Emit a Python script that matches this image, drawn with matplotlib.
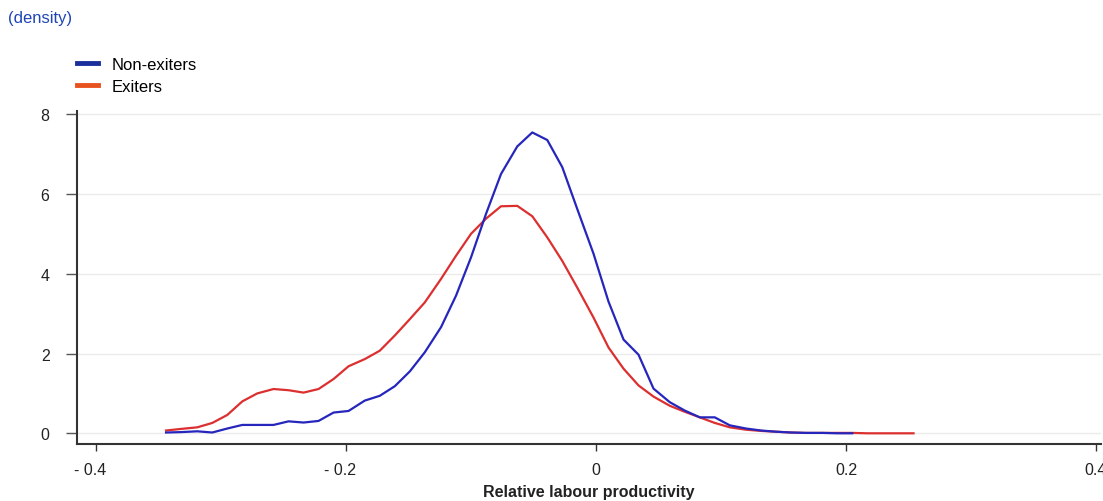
import matplotlib
matplotlib.use("Agg")
import matplotlib.pyplot as plt
import matplotlib.transforms as mtransforms
from matplotlib.lines import Line2D

plt.rcParams['font.family'] = ['Liberation Sans', 'DejaVu Sans']

# kernel density grid (relative labour productivity)
x_grid = [-0.344, -0.332, -0.319, -0.307, -0.295, -0.283, -0.271, -0.258, -0.246, -0.234,
          -0.222, -0.210, -0.198, -0.185, -0.173, -0.161, -0.149, -0.137, -0.124, -0.112,
          -0.100, -0.088, -0.076, -0.063, -0.051, -0.039, -0.027, -0.015, -0.002, 0.010,
          0.022, 0.034, 0.046, 0.059, 0.071, 0.083, 0.095, 0.107, 0.120, 0.132,
          0.144, 0.156, 0.168, 0.181, 0.193, 0.205, 0.217, 0.229, 0.242, 0.254]

non_exiters = [0.02, 0.03, 0.05, 0.02, 0.12, 0.21, 0.21, 0.21, 0.30, 0.27,
               0.31, 0.52, 0.56, 0.82, 0.94, 1.18, 1.55, 2.03, 2.66, 3.45,
               4.41, 5.50, 6.50, 7.19, 7.54, 7.35, 6.67, 5.62, 4.50, 3.30,
               2.35, 1.97, 1.12, 0.78, 0.57, 0.40, 0.40, 0.20, 0.12, 0.07,
               0.04, 0.02, 0.01, 0.01, 0.0, 0.0]

exiters = [0.07, 0.11, 0.15, 0.26, 0.46, 0.80, 1.00, 1.11, 1.08, 1.02,
           1.11, 1.36, 1.68, 1.86, 2.07, 2.45, 2.86, 3.28, 3.87, 4.45,
           5.00, 5.38, 5.69, 5.70, 5.44, 4.91, 4.32, 3.65, 2.90, 2.15,
           1.62, 1.20, 0.92, 0.69, 0.54, 0.40, 0.26, 0.15, 0.09, 0.06,
           0.04, 0.02, 0.01, 0.01, 0.01, 0.01, 0.0, 0.0, 0.0, 0.0]

x_ticks = [-0.4, -0.2, 0, 0.2, 0.4]
x_tick_labels = ['- 0.4', '- 0.2', '0', '0.2', '0.4']
y_ticks = [0, 2, 4, 6, 8]

fig = plt.figure(figsize=(11.03, 5.02), dpi=100)
ax = fig.add_axes([77.3 / 1103, 1 - 445 / 502, (1101 - 77.3) / 1103, (445 - 111.7) / 502])

ax.plot(x_grid[:len(non_exiters)], non_exiters, color='#2626bd', lw=1.6, zorder=3)
ax.plot(x_grid, exiters, color='#dc2f2f', lw=1.6, zorder=2)

ax.set_xlim(-0.415, 0.404)
ax.set_ylim(-0.268, 8.085)
ax.set_yticks(y_ticks)
ax.set_xticks(x_ticks)
ax.set_xticklabels(x_tick_labels)
ax.grid(axis='y', color='#ebebeb', lw=1.0)
ax.set_axisbelow(True)

for s in ['top', 'right']:
    ax.spines[s].set_visible(False)
for s in ['left', 'bottom']:
    ax.spines[s].set_color('#333333')
    ax.spines[s].set_linewidth(1.5)

ax.tick_params(axis='y', length=8, width=1, color='#555555', pad=12, labelsize=11.5, labelcolor='#222222')
ax.tick_params(axis='x', length=5, width=1, color='#333333', pad=8, labelsize=11.5, labelcolor='#222222')

# nudge the negative labels so the number sits under the tick
for lab in ax.get_xticklabels():
    if lab.get_text().startswith('-'):
        lab.set_transform(lab.get_transform() + mtransforms.ScaledTranslation(-6 / 100, 0, fig.dpi_scale_trans))

ax.set_xlabel('Relative labour productivity', fontsize=11.5, fontweight='bold', color='#222222', labelpad=5)

fig.text(8 / 1103, 1 - 18 / 502, '(density)', color='#1f45b5', fontsize=12, va='center', ha='left')

handles = [Line2D([], [], color='#1a2f9c', lw=3.5), Line2D([], [], color='#e8521f', lw=3.5)]
fig.legend(handles, ['Non-exiters', 'Exiters'], loc='upper left',
           bbox_to_anchor=(77 / 1103, 1 - 58 / 502), frameon=False, fontsize=12,
           handlelength=1.25, handletextpad=0.8, labelspacing=0.4, borderpad=0, borderaxespad=0)

fig.savefig('out.png', dpi=100)
